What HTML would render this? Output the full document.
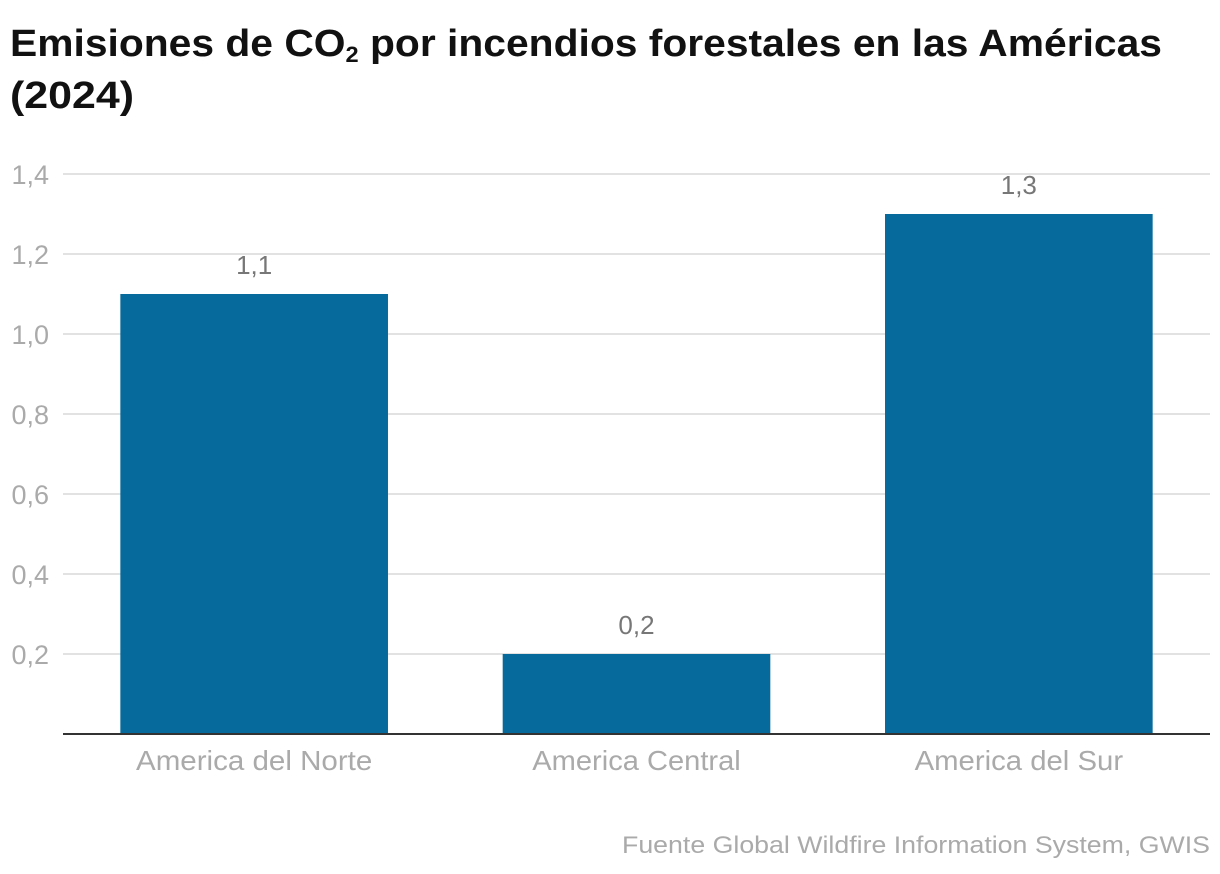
<!DOCTYPE html>
<html><head><meta charset="utf-8"><style>
body{margin:0;background:#fff;width:1220px;height:874px;overflow:hidden}
svg{display:block;font-family:"Liberation Sans",sans-serif}
</style></head><body>
<svg id="chart" width="1220" height="874">
<text x="10" y="56" font-size="38" font-weight="bold" fill="#111" textLength="1152" lengthAdjust="spacingAndGlyphs">Emisiones de CO<tspan font-size="22" dy="6">2</tspan><tspan dy="-6"> por incendios forestales en las Américas</tspan></text>
<text x="10" y="108" font-size="38" font-weight="bold" fill="#111" textLength="124" lengthAdjust="spacingAndGlyphs">(2024)</text>
<g id="grid"></g><g id="bars"></g>
<text x="1210" y="853" font-size="24" fill="#aaa" text-anchor="end" textLength="588" lengthAdjust="spacingAndGlyphs">Fuente Global Wildfire Information System, GWIS</text>
</svg>
<script>
const categories=["America del Norte","America Central","America del Sur"];
const values=[1.1,0.2,1.3];
const valueLabels=["1,1","0,2","1,3"];
const ticks=[0.2,0.4,0.6,0.8,1.0,1.2,1.4];
const tickLabels=["0,2","0,4","0,6","0,8","1,0","1,2","1,4"];
const NS="http://www.w3.org/2000/svg";
const x0=63,x1=1210,y0=734,scale=400;
const y=v=>y0-v*scale;
const band=(x1-x0)/categories.length;
const xc=i=>x0+band*(i+0.5);
const bw=band*0.7;
function mk(t,a,txt){const e=document.createElementNS(NS,t);for(const k in a)e.setAttribute(k,a[k]);if(txt!=null)e.textContent=txt;return e;}
const grid=document.getElementById('grid'),bars=document.getElementById('bars');
ticks.forEach((t,i)=>{
 const l=mk('line',{x1:x0,x2:x1,y1:y(t),y2:y(t),stroke:'#e2e2e2','stroke-width':2});
 
 
 grid.appendChild(l);
 const tx=mk('text',{x:49,y:y(t)+10,'font-size':27,fill:'#aaa','text-anchor':'end'},tickLabels[i]);
 
 
 grid.appendChild(tx);
});
values.forEach((v,i)=>{
 const r=mk('rect',{x:xc(i)-bw/2,y:y(v),width:bw,height:v*scale,fill:'#066a9c'});
 
 
 bars.appendChild(r);
 const vl=mk('text',{x:xc(i),y:y(v)-20,'font-size':26,fill:'#777','text-anchor':'middle'},valueLabels[i]);
 
 
 bars.appendChild(vl);
 const cl=mk('text',{x:xc(i),y:y0+36,'font-size':28,fill:'#aaa','text-anchor':'middle',textLength:categories[i].length*13.9,lengthAdjust:'spacingAndGlyphs'},categories[i]);
 
 
 bars.appendChild(cl);
});
const ax=mk('line',{x1:x0,x2:x1,y1:y0,y2:y0,stroke:'#333','stroke-width':2});


bars.appendChild(ax);
</script>
</body></html>
